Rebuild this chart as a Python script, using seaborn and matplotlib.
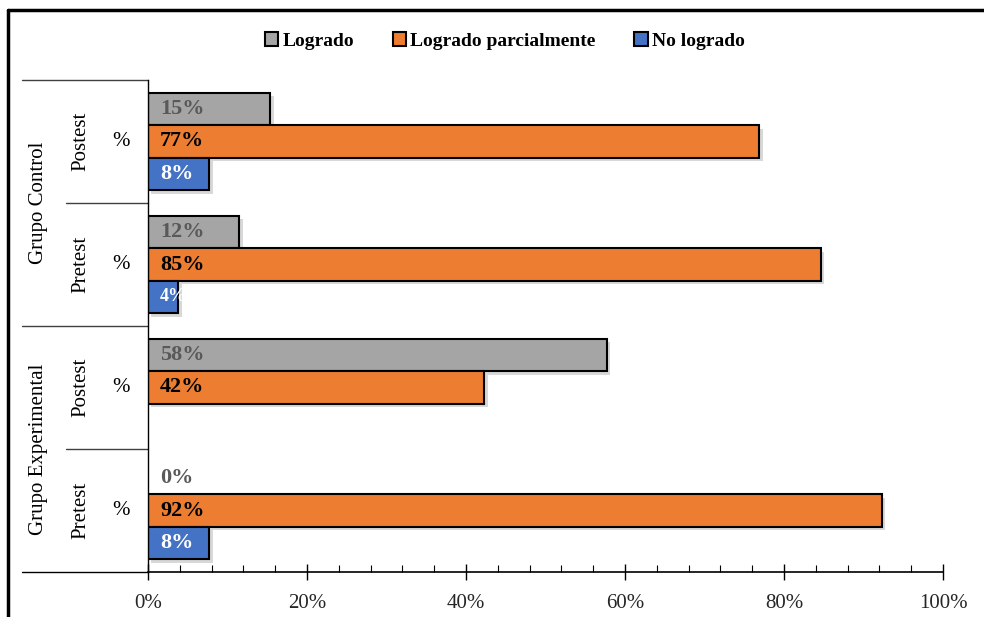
import matplotlib
matplotlib.use("Agg")
import matplotlib.pyplot as plt
import matplotlib.patheffects as pe
from matplotlib.lines import Line2D
from matplotlib.patches import Patch
import matplotlib.ticker as mticker
import seaborn as sns
import pandas as pd

# data (percent of students)
grupos = ["Grupo Control", "Grupo Control", "Grupo Experimental", "Grupo Experimental"]
fases = ["Postest", "Pretest", "Postest", "Pretest"]
niveles = ["Logrado", "Logrado parcialmente", "No logrado"]
logrado = [15.4, 11.5, 57.7, 0.0]
parcial = [76.9, 84.6, 42.3, 92.3]
no_logrado = [7.7, 3.8, 0.0, 7.7]
x_ticks = [0, 20, 40, 60, 80, 100]

colores = ["#A5A5A5", "#ED7D31", "#4472C4"]
color_texto = ["#595959", "black", "white"]

cats = [f"{g} | {f}" for g, f in zip(grupos, fases)]
df = pd.DataFrame({
    "cat": cats * 3,
    "nivel": sum([[n] * len(cats) for n in niveles], []),
    "valor": logrado + parcial + no_logrado,
})

sns.set_theme(style="white")
plt.rcParams["font.family"] = ["Liberation Serif", "DejaVu Serif"]
plt.rcParams["text.color"] = "black"

fig = plt.figure(figsize=(9.84, 6.17), dpi=100)
ax = fig.add_axes([148 / 984, 1 - 572 / 617, 795 / 984, 492 / 617])

sns.barplot(data=df, y="cat", x="valor", hue="nivel", order=cats, hue_order=niveles,
            palette=colores, orient="h", width=0.79, edgecolor="black", linewidth=1.5,
            saturation=1, legend=False, ax=ax)

shadow = [pe.SimplePatchShadow(offset=(2.5, -2.5), shadow_rgbFace="gray", alpha=0.3), pe.Normal()]
for i, cont in enumerate(ax.containers):
    for bar in cont:
        val = bar.get_width()
        if val == 0:
            bar.set_visible(False)
        else:
            bar.set_path_effects(shadow)
        # small bars get a smaller label, as in the source chart
        size = 16 if (val >= 5 or val == 0) else 13
        ax.text(1.5, bar.get_y() + bar.get_height() / 2, f"{val:.0f}%",
                ha="left", va="center", fontsize=size, fontweight="bold",
                color=color_texto[i], zorder=5)

ax.set_xlim(0, 100)
ax.set_ylim(len(cats) - 0.5, -0.5)
ax.set_xticks(x_ticks)
ax.set_xticklabels([f"{t}%" for t in x_ticks], fontsize=15, color="#262626")
ax.xaxis.set_minor_locator(mticker.MultipleLocator(4))
ax.tick_params(axis="x", which="major", direction="inout", length=12, width=1, color="black",
               bottom=True, pad=10)
ax.tick_params(axis="x", which="minor", direction="in", length=5, width=0.8, color="black",
               bottom=True)
ax.set_yticks([])
ax.set_xlabel("")
ax.set_ylabel("")
for s in ["top", "right"]:
    ax.spines[s].set_visible(False)
ax.spines["left"].set_color("black")
ax.spines["left"].set_linewidth(1)
ax.spines["bottom"].set_color("black")
ax.spines["bottom"].set_linewidth(1.2)

# hierarchical category labels
trans = ax.get_yaxis_transform()
for k, (g, f) in enumerate(zip(grupos, fases)):
    ax.text(-0.034, k, "%", transform=trans, ha="center", va="center", fontsize=15)
    ax.text(-0.084, k, f, transform=trans, ha="center", va="center", fontsize=15, rotation=90)
for k in [0, 2]:
    ax.text(-0.138, k + 0.5, grupos[k], transform=trans, ha="center", va="center",
            fontsize=15, rotation=90)

sep_color = "#404040"
for yv, x0 in [(-0.5, -0.158), (0.5, -0.103), (1.5, -0.158), (2.5, -0.103), (3.5, -0.158)]:
    ax.add_line(Line2D([x0, 0], [yv, yv], transform=trans, color=sep_color if yv != 3.5 else "black",
                       lw=1, clip_on=False))

# legend
handles = [Patch(facecolor=c, edgecolor="black", linewidth=1.5) for c in colores]
fig.legend(handles, niveles, loc="center", bbox_to_anchor=(0.513, 1 - 41 / 617), ncol=3,
           frameon=False, handlelength=0.7, handleheight=0.7, handletextpad=0.2,
           columnspacing=2.0, prop={"size": 14, "weight": "bold"})

# outer frame (left and top edges visible)
fig.add_artist(Line2D([8 / 984, 8 / 984], [0, 1 - 10 / 617], transform=fig.transFigure,
                      color="black", lw=2.5))
fig.add_artist(Line2D([8 / 984, 1], [1 - 10 / 617, 1 - 10 / 617], transform=fig.transFigure,
                      color="black", lw=2.5))

fig.savefig("out.png", dpi=100, facecolor="white")
